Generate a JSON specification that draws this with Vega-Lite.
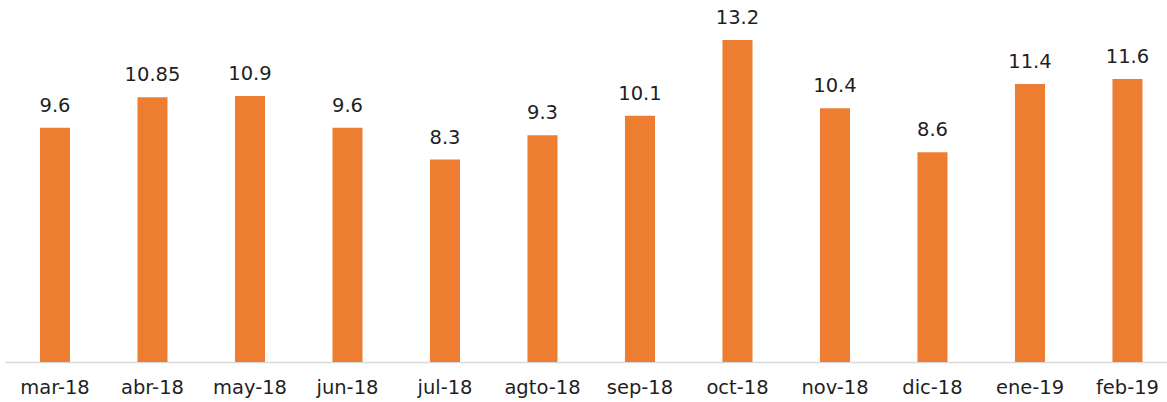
{
  "$schema": "https://vega.github.io/schema/vega-lite/v6.json",
  "width": 1162,
  "height": 362,
  "autosize": {"type": "none"},
  "padding": {"left": 5, "top": 0, "right": 0, "bottom": 40},
  "background": "white",
  "config": {"view": {"stroke": null}},
  "data": {
    "values": [
      {"mes": "mar-18", "valor": 9.6},
      {"mes": "abr-18", "valor": 10.85},
      {"mes": "may-18", "valor": 10.9},
      {"mes": "jun-18", "valor": 9.6},
      {"mes": "jul-18", "valor": 8.3},
      {"mes": "agto-18", "valor": 9.3},
      {"mes": "sep-18", "valor": 10.1},
      {"mes": "oct-18", "valor": 13.2},
      {"mes": "nov-18", "valor": 10.4},
      {"mes": "dic-18", "valor": 8.6},
      {"mes": "ene-19", "valor": 11.4},
      {"mes": "feb-19", "valor": 11.6}
    ]
  },
  "encoding": {
    "x": {
      "field": "mes",
      "type": "ordinal",
      "sort": null,
      "scale": {"paddingInner": 0.692, "paddingOuter": 0.305, "align": 0.588},
      "axis": {
        "title": null,
        "labelAngle": 0,
        "ticks": false,
        "domainColor": "#d9d9d9",
        "domainWidth": 1.5,
        "labelFont": "DejaVu Sans",
        "labelFontSize": 19.5,
        "labelColor": "#1f1f1f",
        "labelPadding": 16
      }
    },
    "y": {
      "field": "valor",
      "type": "quantitative",
      "scale": {"domain": [0, 14.84]},
      "axis": null
    }
  },
  "layer": [
    {"mark": {"type": "bar", "color": "#ED7D31"}},
    {
      "mark": {"type": "text", "baseline": "alphabetic", "dy": -16, "fontSize": 19.5, "font": "DejaVu Sans", "color": "#1f1f1f"},
      "encoding": {"text": {"field": "valor", "type": "nominal"}}
    }
  ]
}
